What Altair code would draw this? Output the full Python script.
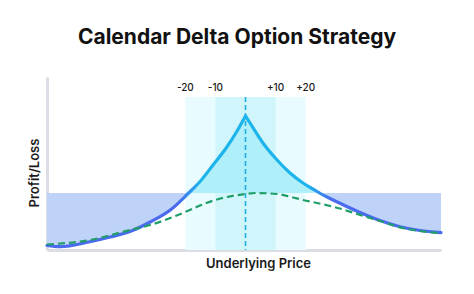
import altair as alt
import pandas as pd

# ---- data (x: price offset, y: profit/loss units) ----
solid_x = [-66, -61.7, -51.7, -45, -38.4, -31.7, -25, -18.9, -15.1, -10.8, -6.2, -2.8, 0,
           1.5, 5.8, 10.5, 14.8, 19.1, 23.8, 24.6, 28.1, 31.4, 38.1, 44.7, 51.4, 58, 65]
solid_y = [4.5, 3.3, 8.3, 13, 18.5, 28, 40, 57, 68.5, 85, 103, 119, 134,
           127, 107, 90, 77, 67, 58.5, 57, 51.5, 46.8, 37.5, 29.5, 23.3, 19.5, 17.3]

dash_x = [-66, -51.7, -38.4, -31.7, -25, -18.5, -15.1, -12.8, -6.2, 0, 3.2, 10.5, 14.8,
          19.1, 23.8, 28.1, 31.4, 36.1, 42, 44.7, 51.4, 58, 65]
dash_y = [5.5, 10, 20, 25, 32, 40, 44.5, 47.3, 53, 56, 57, 56, 53.3,
          50, 47, 44, 41.5, 37, 31.5, 29, 22.6, 19, 16.8]

level = 57
left_cross = -18.9
right_cross = 24.6

band_lo = [-20, -10]
band_hi = [20, 10]
band_kind = ["outer", "inner"]
band_top = 153

label_x = [-20, -10, 10, 20]
label_text = ["-20", "-10", "+10", "+20"]
label_y = 162

# ---- tables ----
curve = pd.DataFrame({"price": solid_x, "pl": solid_y})
curve["level"] = level
left = curve[curve.price <= 0]
right = curve[curve.price >= 0]
blue_l = curve[curve.price <= left_cross]
cyan_l = curve[(curve.price >= left_cross) & (curve.price <= 0)]
cyan_r = curve[(curve.price >= 0) & (curve.price <= right_cross)]
blue_r = curve[curve.price >= right_cross]
dashed = pd.DataFrame({"price": dash_x, "pl": dash_y})
bands = pd.DataFrame({"lo": band_lo, "hi": band_hi, "kind": band_kind,
                      "top": [band_top] * 2, "bottom": [0] * 2})
labels = pd.DataFrame({"price": label_x, "text": label_text, "pl": [label_y] * 4})
center = pd.DataFrame({"price": [0], "top": [band_top], "bottom": [0]})

xs = alt.Scale(domain=[-66, 65], nice=False, zero=False)
ys = alt.Scale(domain=[0, 173], nice=False, zero=False)
X = lambda f: alt.X(f, type="quantitative", scale=xs, title="Underlying Price")
Y = lambda f: alt.Y(f, type="quantitative", scale=ys, title="Profit/Loss")

BLUE = "#4b6bef"
CYAN = "#1db4ec"

outer_layer = alt.Chart(bands[bands.kind == "outer"]).mark_rect(color="#e8fbfe").encode(
    x=X("lo"), x2="hi", y=Y("top"), y2="bottom")
inner_layer = alt.Chart(bands[bands.kind == "inner"]).mark_rect(color="#d0f5fb").encode(
    x=X("lo"), x2="hi", y=Y("top"), y2="bottom")

def area(df, col):
    return alt.Chart(df).mark_area(color=col, interpolate="monotone", opacity=1).encode(
        x=X("price"), y=Y("pl"), y2="level")

fills = [area(blue_l, "#bfd2f8"), area(blue_r, "#bfd2f8"),
         area(cyan_l, "#aeeff9"), area(cyan_r, "#aeeff9")]

grad_l = alt.Gradient(gradient="linear", x1=0, x2=1, y1=0, y2=0, stops=[
    alt.GradientStop(color=BLUE, offset=0), alt.GradientStop(color=BLUE, offset=0.66),
    alt.GradientStop(color=CYAN, offset=0.77), alt.GradientStop(color=CYAN, offset=1)])
grad_r = alt.Gradient(gradient="linear", x1=0, x2=1, y1=0, y2=0, stops=[
    alt.GradientStop(color=CYAN, offset=0), alt.GradientStop(color=CYAN, offset=0.32),
    alt.GradientStop(color=BLUE, offset=0.44), alt.GradientStop(color=BLUE, offset=1)])

line_l = alt.Chart(left).mark_line(stroke=grad_l, strokeWidth=3.2, interpolate="monotone",
                                   strokeCap="round", strokeJoin="miter").encode(
    x=X("price"), y=Y("pl"))
line_r = alt.Chart(right).mark_line(stroke=grad_r, strokeWidth=3.2, interpolate="monotone",
                                    strokeCap="round", strokeJoin="miter").encode(
    x=X("price"), y=Y("pl"))

center_rule = alt.Chart(center).mark_rule(color="#22b0e4", strokeWidth=1.6,
                                          strokeDash=[5, 3]).encode(
    x=X("price"), y=Y("top"), y2="bottom")

dash_line = alt.Chart(dashed).mark_line(color="#1f9e68", strokeWidth=2.2, strokeDash=[7, 4],
                                        interpolate="monotone").encode(
    x=X("price"), y=Y("pl"))

text_layer = alt.Chart(labels).mark_text(font="Inter", fontSize=10, fontWeight=500,
                                         color="#1a1a1a", baseline="middle").encode(
    x=X("price"), y=Y("pl"), text="text:N")

chart = alt.layer(
    outer_layer, inner_layer, *fills, center_rule, line_l, line_r, dash_line, text_layer
).properties(
    width=394, height=173,
    autosize=alt.AutoSizeParams(type="none"),
    padding={"left": 47, "top": 77, "right": 33, "bottom": 44},
    title=alt.Title("Calendar Delta Option Strategy", font="Inter", fontSize=21,
                    fontWeight=700, color="#111111", anchor="middle", dx=-7,
                    baseline="alphabetic", offset=12),
).configure_view(stroke=None).configure_axis(
    domainColor="#dcdce5", domainWidth=3, ticks=False, labels=False, grid=False,
    titleFont="Inter", titleFontSize=13, titleFontWeight=600, titleColor="#1a1a1a",
).configure_axisX(titlePadding=7, titleX=211).configure_axisY(titlePadding=6, titleY=95.5)

chart.save("out.html", embed_options={"renderer": "svg", "actions": False})
